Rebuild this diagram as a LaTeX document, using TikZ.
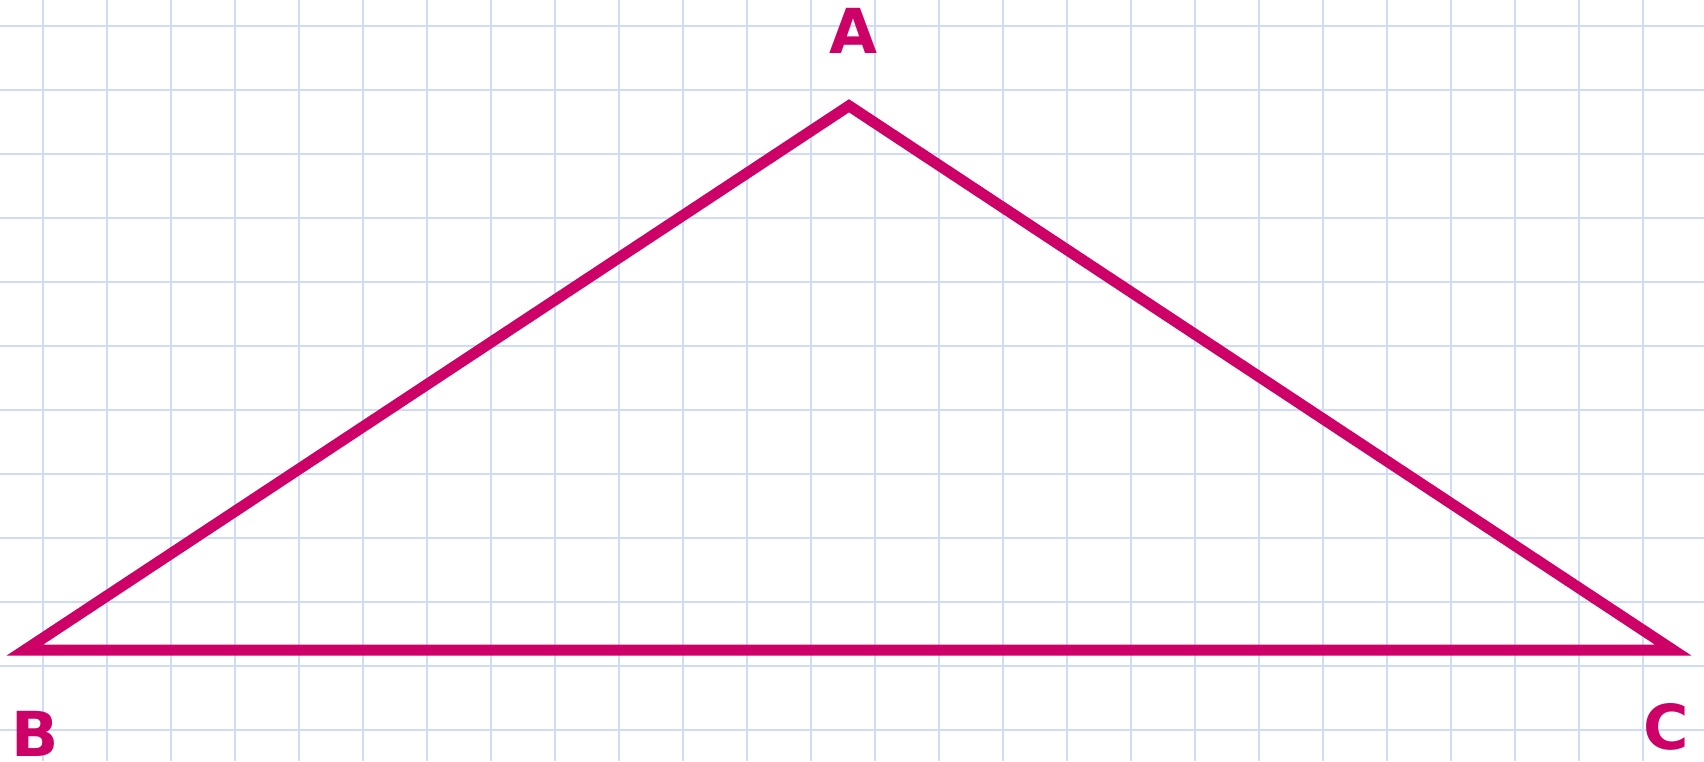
\documentclass[tikz,border=0pt]{standalone}
\usepackage{fontspec}
\setsansfont{DejaVu Sans}
\usepackage{tikz}
\definecolor{gridblue}{RGB}{207,219,250}
\definecolor{tripink}{RGB}{204,0,102}

\begin{document}
\begin{tikzpicture}[
        x=0.5pt, y=-0.5pt,
        gridline/.style={draw=gridblue, line width=0.8pt},
        triangle/.style={draw=tripink, line width=5.5pt, line join=miter},
        vertex/.style={text=tripink, inner sep=0pt, anchor=base,
          font=\sffamily\bfseries\fontsize{31}{31}\selectfont},
    ]
        \useasboundingbox (0,0) rectangle (1704,761);
        % grid
        \foreach \i in {0,...,25}
            \draw[gridline] (43+64*\i,0) -- (43+64*\i,761);
        \foreach \j in {0,...,11}
            \draw[gridline] (0,25.7+64*\j) -- (1704,25.7+64*\j);

        \coordinate (A) at (849,105.8);
        \coordinate (B) at (25,650);
        \coordinate (C) at (1673,650);
        \draw[triangle] (A) -- (B) -- (C) -- cycle;

        \node[vertex] (lblA) at (853,53) {A};
        \node[vertex] (lblB) at (35,756) {B};
        \node[vertex] (lblC) at (1666,749) {C};
    \end{tikzpicture}
\end{document}
